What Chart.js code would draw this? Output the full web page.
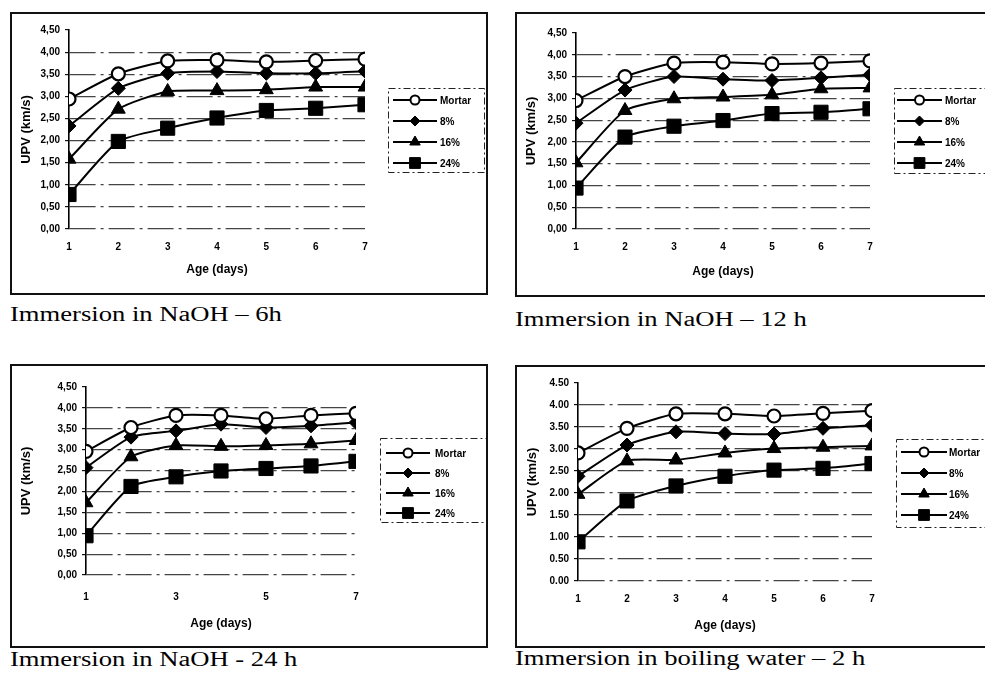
<!DOCTYPE html>
<html lang="en">
<head>
<meta charset="UTF-8">
<title>UPV vs age</title>
<script src="https://cdn.jsdelivr.net/npm/chart.js"></script>
<style>
    body { margin: 0; width: 985px; height: 681px; overflow: hidden; background: #fff; position: relative; }
    .panel { position: absolute; border: 2px solid #111; box-sizing: border-box; background: #fff; }
    .panel canvas { display: block; }
    .caption { position: absolute; font-family: "Liberation Serif", "Times New Roman", serif; font-size: 20px; line-height: 20px;
               color: #000; white-space: nowrap; transform: scaleX(1.33); transform-origin: left top; }
</style>
</head>
<body>
<div class="panel" style="left:10px;top:12px;width:478px;height:283px"><canvas id="c1" width="474" height="279"></canvas></div>
<div class="panel" style="left:515px;top:12px;width:475px;height:285px"><canvas id="c2" width="471" height="281"></canvas></div>
<div class="panel" style="left:10px;top:364px;width:478px;height:284px"><canvas id="c3" width="474" height="280"></canvas></div>
<div class="panel" style="left:515px;top:365px;width:475px;height:283px"><canvas id="c4" width="471" height="279"></canvas></div>

<div class="caption" style="left:10px;top:304px">Immersion in NaOH – 6h</div>
<div class="caption" style="left:515px;top:309px">Immersion in NaOH – 12 h</div>
<div class="caption" style="left:10px;top:649px">Immersion in NaOH - 24 h</div>
<div class="caption" style="left:515px;top:648px">Immersion in boiling water – 2 h</div>

<script>
    // data
    const ages = [1, 2, 3, 4, 5, 6, 7];
    const seriesNames = ['Mortar', '8%', '16%', '24%'];
    const yMin = 0, yMax = 4.5, yStep = 0.5;

    // NaOH 6 h
    const naoh6Mortar = [2.94, 3.51, 3.80, 3.82, 3.78, 3.81, 3.84];
    const naoh6P8     = [2.33, 3.18, 3.52, 3.56, 3.52, 3.52, 3.57];
    const naoh6P16    = [1.58, 2.71, 3.11, 3.13, 3.15, 3.21, 3.21];
    const naoh6P24    = [0.78, 1.98, 2.28, 2.51, 2.68, 2.73, 2.81];

    // NaOH 12 h
    const naoh12Mortar = [2.95, 3.50, 3.81, 3.83, 3.79, 3.81, 3.86];
    const naoh12P8     = [2.43, 3.19, 3.50, 3.44, 3.41, 3.47, 3.54];
    const naoh12P16    = [1.52, 2.72, 2.99, 3.03, 3.08, 3.22, 3.24];
    const naoh12P24    = [0.94, 2.11, 2.36, 2.49, 2.65, 2.68, 2.76];

    // NaOH 24 h
    const naoh24Mortar = [2.96, 3.53, 3.82, 3.82, 3.74, 3.82, 3.87];
    const naoh24P8     = [2.57, 3.30, 3.45, 3.61, 3.53, 3.57, 3.65];
    const naoh24P16    = [1.73, 2.83, 3.10, 3.08, 3.10, 3.14, 3.22];
    const naoh24P24    = [0.94, 2.12, 2.35, 2.49, 2.55, 2.61, 2.72];

    // boiling water 2 h
    const boilMortar = [2.91, 3.47, 3.80, 3.80, 3.75, 3.81, 3.87];
    const boilP8     = [2.38, 3.09, 3.39, 3.35, 3.34, 3.47, 3.54];
    const boilP16    = [1.97, 2.73, 2.75, 2.91, 3.01, 3.04, 3.07];
    const boilP24    = [0.89, 1.82, 2.16, 2.38, 2.52, 2.56, 2.67];

    const boldFont = '"Liberation Sans", Arial, sans-serif';

    const markerStyles = [
        { pointStyle: 'circle', pointRadius: 6.5, pointBackgroundColor: '#fff', pointBorderWidth: 2.2 },
        { pointStyle: 'rectRot', pointRadius: 7, pointBackgroundColor: '#000', pointBorderWidth: 1 },
        { pointStyle: 'triangle', pointRadius: 8, pointBackgroundColor: '#000', pointBorderWidth: 1 },
        { pointStyle: 'rect', pointRadius: 10, pointBackgroundColor: '#000', pointBorderWidth: 1 }
    ];

    function drawMarker(ctx, style, x, y, r) {
        ctx.beginPath();
        if (style === 'circle') {
            ctx.arc(x, y, r, 0, Math.PI * 2);
        } else if (style === 'rectRot') {
            ctx.moveTo(x, y - r); ctx.lineTo(x + r, y); ctx.lineTo(x, y + r); ctx.lineTo(x - r, y);
        } else if (style === 'triangle') {
            ctx.moveTo(x, y - r); ctx.lineTo(x + r * 0.87, y + r * 0.5); ctx.lineTo(x - r * 0.87, y + r * 0.5);
        } else {
            ctx.rect(x - r * 0.72, y - r * 0.72, r * 1.44, r * 1.44);
        }
        ctx.closePath();
        ctx.fill();
        ctx.stroke();
    }

    // legend drawn in a framed box to the right of the plot, like the Excel original
    const sideLegend = {
        id: 'sideLegend',
        afterDraw(chart, args, opts) {
            const ctx = chart.ctx;
            ctx.save();
            ctx.strokeStyle = '#222';
            ctx.lineWidth = 1;
            ctx.setLineDash([7, 3, 2, 3]);
            ctx.strokeRect(opts.box[0] + 0.5, opts.box[1] + 0.5, opts.box[2] - opts.box[0], opts.box[3] - opts.box[1]);
            ctx.setLineDash([]);
            chart.data.datasets.forEach((ds, i) => {
                const y = opts.itemY + i * opts.step;
                ctx.strokeStyle = '#000';
                ctx.lineWidth = 2;
                ctx.beginPath();
                ctx.moveTo(opts.lineX[0], y);
                ctx.lineTo(opts.lineX[1], y);
                ctx.stroke();
                ctx.fillStyle = ds.pointBackgroundColor;
                ctx.lineWidth = ds.pointStyle === 'circle' ? 2 : 1;
                const r = { circle: 4.5, rectRot: 5, triangle: 6, rect: 7.5 }[ds.pointStyle];
                drawMarker(ctx, ds.pointStyle, (opts.lineX[0] + opts.lineX[1]) / 2, y, r);
                ctx.fillStyle = '#000';
                ctx.font = 'bold ' + opts.fontSize + 'px ' + boldFont;
                ctx.textBaseline = 'middle';
                ctx.fillText(ds.label, opts.textX, y + 1);
            });
            ctx.restore();
        }
    };

    function makeChart(id, cfg) {
        const canvas = document.getElementById(id);
        const W = canvas.width, H = canvas.height;
        const datasets = cfg.series.map((vals, i) => Object.assign({
            label: seriesNames[i],
            data: ages.map((a, j) => ({ x: a, y: vals[j] })),
            borderColor: '#000',
            pointBorderColor: '#000',
            borderWidth: 2,
            tension: 0.2
        }, markerStyles[i]));

        return new Chart(canvas, {
            type: 'line',
            data: { datasets: datasets },
            options: {
                responsive: false,
                animation: false,
                layout: { padding: { left: 0, top: cfg.area.top, right: W - cfg.area.right, bottom: 0 } },
                scales: {
                    x: {
                        type: 'linear', min: 1, max: 7,
                        afterFit: s => { s.height = H - cfg.area.bottom; },
                        grid: { display: false, drawTicks: false },
                        border: { display: false },
                        ticks: { stepSize: cfg.xStep, padding: cfg.xTickPad, color: '#000',
                                 font: { family: boldFont, size: 10, weight: 'bold' } },
                        title: { display: true, text: 'Age (days)', color: '#000',
                                 font: { family: boldFont, size: 12, weight: 'bold' },
                                 padding: { top: 0, bottom: cfg.xTitlePad } }
                    },
                    y: {
                        min: yMin, max: yMax,
                        afterFit: s => { s.width = cfg.area.left; },
                        grid: {
                            color: c => (c.tick && c.tick.value === yMax) ? 'rgba(0,0,0,0)' : '#444',
                            lineWidth: 1.2,
                            tickColor: '#111',
                            tickLength: 4
                        },
                        border: { display: true, color: '#000', width: 1.6, dash: [26, 5, 3, 5] },
                        ticks: {
                            stepSize: yStep, padding: 5, color: '#000',
                            font: { family: boldFont, size: 10, weight: 'bold' },
                            callback: v => v.toFixed(2).replace('.', cfg.decimal)
                        },
                        title: { display: true, text: 'UPV (km/s)', color: '#000',
                                 font: { family: boldFont, size: 13, weight: 'bold' },
                                 padding: { top: cfg.yTitlePad, bottom: 0 } }
                    }
                },
                plugins: {
                    legend: { display: false },
                    tooltip: { enabled: false },
                    sideLegend: cfg.legend
                }
            },
            plugins: [sideLegend]
        });
    }

    makeChart('c1', {
        series: [naoh6Mortar, naoh6P8, naoh6P16, naoh6P24],
        area: { left: 57, right: 353, top: 16, bottom: 215 },
        xStep: 1, xTickPad: 12, xTitlePad: 16, yTitlePad: 7, decimal: ',',
        legend: { box: [376, 74, 472, 158], lineX: [381, 425], textX: 428, itemY: 86, step: 21, fontSize: 10 }
    });

    makeChart('c2', {
        series: [naoh12Mortar, naoh12P8, naoh12P16, naoh12P24],
        area: { left: 59, right: 353, top: 19, bottom: 215 },
        xStep: 1, xTickPad: 12, xTitlePad: 16, yTitlePad: 7, decimal: ',',
        legend: { box: [377, 74, 480, 159], lineX: [380, 425], textX: 428, itemY: 86, step: 21, fontSize: 10 }
    });

    makeChart('c3', {
        series: [naoh24Mortar, naoh24P8, naoh24P16, naoh24P24],
        area: { left: 74, right: 344, top: 21, bottom: 209 },
        xStep: 2, xTickPad: 16, xTitlePad: 15, yTitlePad: 7, decimal: ',',
        legend: { box: [368, 72, 480, 156], lineX: [374, 418], textX: 423, itemY: 87, step: 20, fontSize: 10 }
    });

    makeChart('c4', {
        series: [boilMortar, boilP8, boilP16, boilP24],
        area: { left: 61, right: 355, top: 16, bottom: 214 },
        xStep: 1, xTickPad: 12, xTitlePad: 13, yTitlePad: 8, decimal: '.',
        legend: { box: [379, 72, 480, 160], lineX: [384, 430], textX: 432, itemY: 85, step: 21, fontSize: 10 }
    });
</script>
</body>
</html>
